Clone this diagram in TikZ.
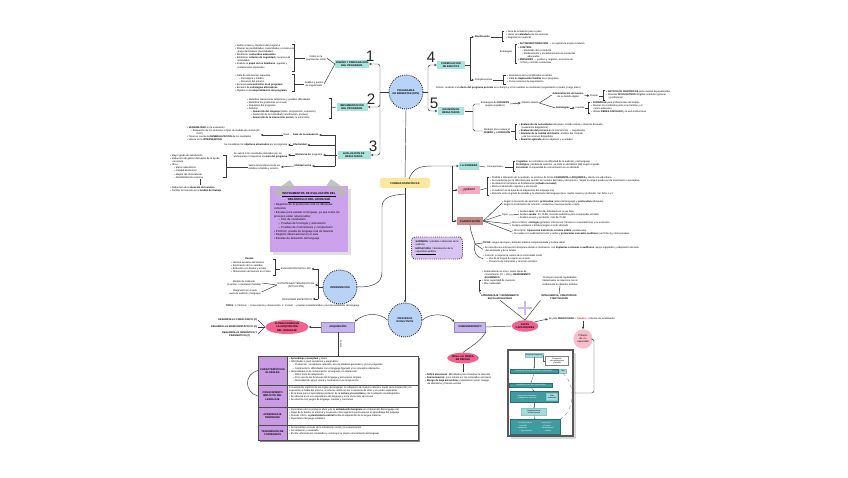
\documentclass[tikz,border=0pt]{standalone}
\usepackage{fontspec}
\setmainfont{Liberation Sans}
\usetikzlibrary{positioning,shapes.geometric,arrows.meta,shadows}

\definecolor{blubg}{HTML}{B9D3F6}
\definecolor{tealbg}{HTML}{A9E3DE}
\definecolor{lilabg}{HTML}{C7B6EC}
\definecolor{lilaline}{HTML}{9C8BC9}
\definecolor{pinkbg}{HTML}{F2628F}
\definecolor{pinkq}{HTML}{F7A9C2}
\definecolor{pinklight}{HTML}{F6BFCB}
\definecolor{brownbg}{HTML}{C98B87}
\definecolor{yellowbg}{HTML}{FBE8A0}
\definecolor{notebg}{HTML}{CDA2EC}
\definecolor{defbg}{HTML}{D8C3F2}
\definecolor{tablbg}{HTML}{C89BE2}
\definecolor{tealdk}{HTML}{3E9CA0}
\definecolor{teallt}{HTML}{A3DADF}
\definecolor{lineclr}{HTML}{3A3A3A}
\definecolor{plusclr}{HTML}{CBBBF2}

\newcommand{\ftext}{\fontsize{2.1}{2.7}\selectfont}
\newcommand{\ftitle}{\fontsize{2.2}{2.7}\selectfont\bfseries}
\newcommand{\fnote}{\fontsize{2.4}{3.2}\selectfont}
\newcommand{\fdigit}{\fontsize{13}{13}\selectfont}
\newcommand{\fmini}{\fontsize{1.6}{2}\selectfont}

\begin{document}
\begin{tikzpicture}[x=0.03cm,y=-0.03cm,
  conn/.style={draw=lineclr,line width=0.4pt},
  arr/.style={conn,-{Stealth[length=2.2pt,width=2pt]}},
  bubble/.style={circle,draw=black!80,densely dotted,line width=0.8pt,fill=blubg,
    minimum size=1.02cm,inner sep=0pt,align=center,font=\ftitle},
  tealbox/.style={fill=tealbg,inner sep=0.8pt,align=center,font=\ftitle,minimum height=0.24cm},
  lilabox/.style={fill=lilabg,draw=lilaline,line width=0.3pt,align=center,font=\ftitle,minimum height=0.3cm},
  blob/.style={ellipse,fill=pinkbg,inner sep=0pt,align=center,font=\ftitle},
  notes/.style={font=\ftext,align=left,inner sep=0pt,anchor=north west},
  lbl/.style={font=\ftext,align=center,inner sep=0.5pt},
  digit/.style={font=\fdigit,inner sep=0pt,text=black!85},
  tape/.style={fill=gray!55,opacity=0.85,minimum width=0.6cm,minimum height=0.17cm},
  cellL/.style={draw=black!70,fill=tablbg,minimum width=0.87cm,font=\ftitle,align=center,inner sep=0.5pt},
  cellR/.style={draw=black!70,minimum width=3.93cm,inner sep=0pt},
  fdark/.style={fill=tealdk,draw=tealdk!70!black,text=white,font=\fmini,align=center,inner sep=0.3pt},
  flight/.style={fill=teallt,draw=tealdk!60,font=\fmini,align=center,inner sep=0.3pt},
  farr/.style={draw=black!60,line width=0.25pt,-{Stealth[length=1.2pt,width=1.1pt]}}]

\fill[white] (0,0) rectangle (848,477);
\useasboundingbox (0,0) rectangle (848,477);

% programas
\node[bubble] (prog) at (406,92) {PROGRAMAS\\DE BIENESTAR (EPS)};
\node[tealbox,minimum width=0.93cm] (fase1) at (352,64) {DISEÑO Y PREPARACIÓN\\DEL PROGRAMA};
\node[tealbox,minimum width=0.93cm] (fase2) at (352,107) {IMPLEMENTACIÓN\\DEL PROGRAMA};
\node[tealbox,minimum width=0.99cm] (fase3) at (354,155) {EVALUACIÓN DE\\RESULTADOS};
\node[tealbox,minimum width=0.84cm] (fase4) at (451,65) {FORMULACIÓN\\DE EFECTOS};
\node[tealbox,minimum width=0.8cm] (fase5) at (451,111) {DIFUSIÓN DE\\RESULTADOS};

\node[digit] (n1) at (370,56) {1};
\node[digit] (n2) at (371,99) {2};
\node[digit] (n3) at (373,146) {3};
\node[digit] (n4) at (431,57) {4};
\node[digit] (n5) at (434,103) {5};

\coordinate (lj) at (380,92);
\coordinate (rj) at (428,92);
\draw[conn] (prog.west) -- (lj);
\draw[arr,rounded corners=2pt] (lj) |- (fase1.east);
\draw[arr,rounded corners=2pt] (lj) |- (fase2.east);
\draw[arr,rounded corners=2pt] (lj) |- (fase3.east);
\draw[conn] (prog.east) -- (rj);
\draw[arr,rounded corners=2pt] (rj) |- (fase4.west);
\draw[arr,rounded corners=2pt] (rj) |- (fase5.west);

% fase 1
\node[notes] (prepA) at (235,44) {• Definir el tema y objetivos del programa\\
• Revisar las posibilidades, capacidades y recursos del\\
\hspace*{2pt}grupo destinatario (necesidades)\\
• Establecer \textbf{contenidos adecuados}\\
• Establecer \textbf{criterios de seguridad} y recursos de\\
\hspace*{2pt}actividades\\
• Analizar el \textbf{papel de los familiares}, agentes y\\
\hspace*{2pt}profesionales implicados};
\node[lbl] (fallos) at (316,58) {Fallos en la\\preparación inicial};
\node[notes] (prepB) at (235,74) {• Falta de información requerida\\
\hspace*{3pt}– Psicológica y médica\\
\hspace*{3pt}– Recursos del entorno\\
• Excesiva \textbf{concentración en el programa}\\
• Escasez de \textbf{estrategias alternativas}\\
• Rigidez en la \textbf{temporalización del programa}};
\node[lbl] (analisis) at (314,84) {Análisis y puntos\\de seguimiento};
\draw[conn] (292,44) -- (294,44) -- (294,71) -- (292,71);
\draw[conn] (294,58) -- (fallos.west);
\draw[conn] (292,74) -- (294,74) -- (294,91) -- (292,91);
\draw[conn] (294,84) -- (analisis.west);
\draw[conn] (fallos.east) -- (fase1.west);
\draw[conn] (analisis.east) -- (fase1.west);

% fase 2
\node[notes] (impC) at (247,98) {• Identificar alteraciones tempranas y posibles dificultades\\
• Identificar los problemas en el aula\\
• Requisitos del programa\\
• Ámbitos:\\
\hspace*{3pt}– \textbf{Desarrollo del lenguaje} (habla, comprensión, expresión)\\
\hspace*{3pt}– Desarrollo de la motricidad (coordinación, postura)\\
\hspace*{3pt}– \textbf{Desarrollo de la interacción social} y la autonomía};
\draw[conn] (329,98) -- (331,98) -- (331,118) -- (329,118);
\draw[conn] (331,108) -- (fase2.west);

% fase 3
\draw[conn] (fase3.west) -- (335,155);
\draw[conn] (335,135) -- (335,166);
\node[notes] (evalE1) at (187,126) {• \textbf{VARIABILIDAD} en la evaluación\\
\hspace*{3pt}– Evaluación de los síntomas, 3 tipos de medida de control (EC,\\
\hspace*{8pt}OCC)\\
• Tener en cuenta la \textbf{GENERALIZACIÓN} de los resultados\\
• Valorar en la \textbf{INTERVENCIÓN}};
\node[lbl] (efase) at (301,135) {Nivel → \textbf{Fase de la evaluación}};
\draw[arr] (335,135) -- (efase.east);
\draw[arr] (efase.west) -- (evalE1.east |- efase.west);
\node[lbl] (efect) at (300,145) {\textbf{Efectividad}};
\node[lbl,anchor=east] (txefect) at (288,145) {Se consideran los \textbf{objetivos alcanzados} por el programa};
\draw[arr] (335,145) -- (efect.east);
\draw[arr] (efect.west) -- (txefect.east);
\node[lbl] (efic) at (309,155) {\textbf{Eficiencia} del programa};
\node[lbl,anchor=east,align=left] (txefic) at (288,155) {Se valora si los resultados obtenidos por los\\participantes compensan el \textbf{coste del programa}};
\draw[arr] (335,155) -- (efic.east);
\draw[arr] (efic.west) -- (txefic.east);
\node[lbl] (util) at (303,166) {\textbf{Utilidad social}};
\node[lbl,anchor=east,align=left] (txutil) at (281,167) {Valora la transferencia de los\\cambios a familia y entorno};
\draw[arr] (335,166) -- (util.east);
\draw[arr] (util.west) -- (txutil.east);
\node[notes] (benef) at (170,154) {• Mayor grado de satisfacción\\
• Reducción de gastos derivados de la ayuda\\
\hspace*{2pt}necesaria\\
• Otros:\\
\hspace*{3pt}– Menor absentismo\\
\hspace*{3pt}– Calidad asistencial\\
\hspace*{3pt}– Mejora del clima laboral\\
\hspace*{3pt}– Rentabilidad de recursos};
\draw[conn] (223,155) -- (226,155) -- (226,177) -- (223,177);
\draw[conn] (226,167) -- (txutil.west);
\draw[conn] (200,179) -- (200,185);
\node[notes] (reduc) at (170,186) {• Reducción de la \textbf{duración del servicio}\\
• Facilitar la inserción en el \textbf{ámbito del trabajo}};

% fase 4
\draw[conn] (fase4.east) -- (470,65);
\draw[conn] (470,37) -- (470,80);
\node[lbl,anchor=west] (plan) at (474,37) {\textbf{Planificación}};
\draw[arr] (470,37) -- (plan.west);
\draw[conn] (plan.east) -- (502,37);
\draw[conn] (504,31.5) -- (502,31.5) -- (502,41) -- (504,41);
\node[notes] (planlist) at (506,30.5) {• Guía de actuación paso a paso\\
• Hacer un \textbf{calendario} de las sesiones\\
• Registrar los avances};
\node[lbl,anchor=east] (estrat) at (513,52) {Estrategias};
\draw[conn] (517,44) -- (515,44) -- (515,63) -- (517,63);
\node[notes] (estlist) at (518,42.5) {• \textbf{AUTOMONITORIZACIÓN} → se registra la propia conducta\\
• \textbf{CONTROL}\\
\hspace*{3pt}– Modelado de la conducta\\
\hspace*{3pt}– Moldeamiento y encadenamiento de conductas\\
\hspace*{8pt}adecuadas\\
• \textbf{REFUERZO} → positivo y negativo, economía de\\
\hspace*{2pt}fichas y contrato conductual};
\node[lbl,anchor=west] (compl) at (474,80) {Complicaciones};
\draw[arr] (470,80) -- (compl.west);
\draw[conn] (compl.east) -- (503,80);
\draw[conn] (506,75.5) -- (503,75.5) -- (503,84) -- (506,84);
\node[notes] (compllist) at (507,74.5) {• Resistencia de los implicados al cambio\\
• Falta de \textbf{implicación familiar} en el programa\\
• Pocas sesiones de seguimiento};
\node[lbl,anchor=west] (crit) at (435,88) {Criterio: analizar si el \textbf{efecto del programa persiste} en el tiempo y si los cambios se mantienen (seguimiento a medio y largo plazo)};

% fase 5
\draw[conn] (fase5.east) -- (473,111);
\node[lbl] (difA) at (495,104) {Estrategias de \textbf{DIFUSIÓN}\\(según el público)};
\node[lbl] (difB) at (497,131) {Modelos para evaluar el\\\textbf{DISEÑO} y la \textbf{DIFUSIÓN}};
\draw[conn,rounded corners=1.5pt] (difA.west) -| (473,131) -- (difB.west);
\node[lbl] (dtipo) at (530,103) {Difusión directa};
\draw[arr] (difA.east) -- (dtipo.west);
\node[lbl] (admin) at (568,95) {\textbf{Administración de fuentes}\\de su ámbito digital};
\node[lbl] (estr) at (563,108) {\textbf{Estrategias}};
\draw[conn] (dtipo.east) -- (admin.west);
\draw[conn] (dtipo.east) -- (estr.west);
\node[lbl] (fuente1) at (594,96) {Fuente};
\draw[arr] (admin.east) -- (fuente1.west);
\draw[conn] (fuente1.east) -- (603,96);
\draw[conn] (605,90.5) -- (603,90.5) -- (603,100) -- (605,100);
\node[notes] (fuenlist) at (606,90) {• \textbf{ARTÍCULOS CIENTÍFICOS} para revistas especializadas\\
• Revistas \textbf{DIVULGATIVAS} dirigidas al público general\\
\hspace*{2pt}y profesional};
\node[lbl] (fuente2) at (580,108) {Fuentes};
\draw[arr] (estr.east) -- (fuente2.west);
\draw[conn] (fuente2.east) -- (588,108);
\draw[conn] (590,102) -- (588,102) -- (588,113.5) -- (590,113.5);
\node[notes] (fuen2list) at (591,101) {• \textbf{JORNADAS} para profesionales del ámbito\\
• Revisar los resultados junto a las familias y el\\
\hspace*{2pt}centro educativo\\
• Utilizar \textbf{REDES SOCIALES} y la web institucional};
\draw[conn] (difB.east) -- (515,131);
\draw[conn] (517,124) -- (515,124) -- (515,139) -- (517,139);
\node[notes] (modlist) at (519,123) {• \textbf{Evaluación de necesidades} del grupo: estado actual y situación deseada\\
\hspace*{2pt}(evaluación diagnóstica)\\
• \textbf{Evaluación del proceso} de la intervención → seguimiento\\
• \textbf{Revisión de la calidad del diseño}: análisis del contexto\\
\hspace*{2pt}y de los recursos disponibles\\
• \textbf{Revisión aplicada} de los objetivos y su validez};

% formas especificas
\node[fill=yellowbg,rounded corners=2pt,font=\ftitle,minimum width=1.5cm,minimum height=0.25cm] (formas) at (405,183) {FORMAS ESPECÍFICAS};
\draw[conn] (prog.south) -- (formas.north);
\node[bubble] (proc) at (405,320) {PROCESOS\\EVOLUTIVOS};
\node[bubble] (inter) at (340,287) {INTERVENCIÓN};
\draw[arr] (formas.south) -- (proc.north);
\draw[conn] (405,194) .. controls (392,195) and (382,197) .. (382,207) -- (382,272) .. controls (382,284) and (372,287) .. (inter.east);

% la sordera
\node[tealbox,minimum width=0.6cm] (sord) at (469,166) {LA SORDERA};
\node[fill=pinkq,font=\ftitle,minimum width=0.66cm,minimum height=0.22cm,inner sep=0.5pt] (que) at (469,190) {¿QUÉ ES?};
\node[fill=brownbg,font=\ftitle,minimum width=0.78cm,minimum height=0.22cm,inner sep=0.5pt] (clas) at (470,221) {CLASIFICACIÓN};
\draw[arr] (409,179) .. controls (413,168) and (420,166) .. (432,166) -- (sord.west);
\draw[conn] (452,166) -- (452,221);
\draw[arr] (452,190) -- (que.west);
\draw[arr] (452,221) -- (clas.west);
\node[lbl] (conc) at (495,167) {· Concepciones ·};
\draw[conn] (sord.east) -- (conc.west);
\draw[conn] (conc.east) -- (513,167);
\draw[conn] (515,161.5) -- (513,161.5) -- (513,171.5) -- (515,171.5);
\node[notes] (conclist) at (516,160.5) {\textbf{Cognitiva}: se considera una dificultad de la audición y del lenguaje\\
\textbf{Fisiológica}: pérdida de audición, se mide en decibelios (dB) según el grado\\
\textbf{Funcional}: la capacidad de comunicación se ve afectada};
\draw[conn] (que.east) -- (487,188);
\draw[conn] (489,177) -- (487,177) -- (487,195) -- (489,195);
\node[notes] (quelist) at (490,176) {• Pérdida o alteración de la audición, se produce de forma \textbf{CONGÉNITA o ADQUIRIDA} y afecta a la vida diaria\\
• Se caracteriza por la dificultad para percibir los sonidos del habla y del entorno. Según su origen puede ser de transmisión o perceptiva\\
• Su detección temprana es fundamental (\textbf{cribado neonatal})\\
• Afecta al desarrollo cognitivo y emocional\\
• La audición es la base de la adquisición del lenguaje oral\\
• Relación entre el grado de pérdida y la afectación del lenguaje (leve, media, severa y profunda). Ver ficha 1 y 2};
\node[notes] (clas1) at (502,200) {• Según el momento de aparición: \textbf{prelocutiva} (antes del lenguaje) y \textbf{poslocutiva} (después)\\
• Según la localización de la lesión: conductiva, neurosensorial o mixta};
\node[lbl] (tipo) at (505,215) {Tipos};
\node[notes] (clas2) at (518,210) {• Sordera \textbf{leve}: 20-40 dB, dificultad con la voz baja\\
• Sordera \textbf{media}: 40-70 dB, necesita audífonos para comprender el habla\\
• Sordera severa y profunda: más de 70 dB};
\node[notes] (clas3) at (510,221) {• Otros criterios: \textbf{etiología} (genética, infecciones, fármacos o traumatismos) y su evolución\\
• Sordera unilateral o bilateral según el oído afectado};
\node[notes] (clas4) at (512,229) {• Otros tipos: \textbf{hipoacusia transitoria, sordera súbita}, presbiacusia\\
• Se evalúa con audiometría tonal y verbal y \textbf{potenciales evocados auditivos} (ver ficha 3) y otras pruebas};
\draw[conn] (clas.east) -- (clas1.west);
\draw[conn] (clas.east) -- (tipo.west);
\draw[conn] (tipo.east) -- (clas2.west);
\draw[conn] (clas.east) -- (clas3.west);
\draw[conn] (clas.east) -- (clas4.west);
\node[notes] (sist) at (483,241.5) {\textbf{TIPOS}: lengua de signos, bimodal, palabra complementada y lectura labial};
\node[notes] (interv) at (483,246.5) {• Se necesita una intervención temprana desde el nacimiento, con \textbf{implantes cocleares o audífonos}, apoyo logopédico y adaptación del aula\\
\hspace*{2pt}del alumnado y de la familia};
\node[notes] (cultura) at (483,254) {• Conocer y respetar la cultura de la comunidad sorda\\
\hspace*{3pt}– Uso de la lengua de signos en el aula\\
\hspace*{3pt}– Presencia de intérpretes y recursos visuales};
\coordinate (cj) at (475,244);
\draw[conn] (clas.south) .. controls (470,232) and (474,238) .. (cj);
\draw[conn] (cj) -- (sist.west);
\draw[conn] (cj) -- (interv.west);
\draw[conn] (cj) .. controls (473,252) and (476,257) .. (cultura.west);

\node[draw=black!75,densely dotted,line width=0.8pt,fill=defbg,rounded corners=3pt,
  minimum width=1.53cm,minimum height=0.66cm,font=\ftext,align=left,inner sep=1pt] (defs) at (437,248)
  {\textbf{SORDERA} = pérdida o alteración de la\\audición\\\textbf{HIPOACUSIA} = disminución de la\\\underline{capacidad auditiva}};

% nota
\node[fill=notebg,minimum width=2.34cm,minimum height=2.0cm,drop shadow={opacity=0.25}] (nota) at (309,219) {};
\node[tape,rotate=35] (tapeL) at (284,189) {};
\node[tape,rotate=-35] (tapeR) at (337,188) {};
\node[notes,font=\fnote,text width=2.1cm,anchor=north] (notatxt) at (309,192) {\centering\underline{\textbf{INSTRUMENTOS DE EVALUACIÓN DEL}}\\\underline{\textbf{DESARROLLO DEL LENGUAJE}}\par
\raggedright
• Registros de la producción oral en diferentes contextos\\
• Escalas para evaluar el lenguaje, ya que todos los procesos están relacionados:\\
\hspace*{4pt}– Test de vocabulario\\
\hspace*{4pt}– Pruebas de fonología y articulación\\
\hspace*{4pt}– Pruebas de morfosintaxis y comprensión\\
• PLON-R: prueba de lenguaje oral de Navarra\\
• Registro observacional en el aula\\
• Escalas de desarrollo del lenguaje};

% intervencion
\draw[conn] (inter.west) -- (318,287);
\draw[conn] (318,269) -- (318,299);
\node[lbl] (evini) at (296,269) {EVALUACIÓN INICIAL (EI)};
\draw[arr] (318,269) -- (evini.east);
\node[notes] (pautas) at (231,258) {\hspace*{12pt}\textbf{Pautas:}\\
• Historia evolutiva del alumno\\
• Exploración de los sentidos\\
• Entrevista a la familia y el tutor\\
• Observación del alumno en el aula};
\draw[conn] (273,259) -- (275,259) -- (275,275) -- (273,275);
\draw[conn] (275,269) -- (evini.west);
\node[lbl] (estter) at (296,285) {ESTRATEGIAS TERAPÉUTICAS\\(ACTUACIÓN)};
\draw[arr] (318,285) -- (estter.east);
\node[lbl] (gabin) at (244,283) {Modelo de Gabinete\\(1 sesión + orientación familiar)};
\node[lbl] (aula) at (245,292) {Integración en el aula\\(aula de audición y lenguaje)};
\draw[conn] (estter.west) -- (gabin.east);
\draw[conn] (estter.west) -- (aula.east);
\node[lbl] (progesp) at (297,299) {PROGRAMA ESPECÍFICO};
\draw[arr] (318,299) -- (progesp.east);
\node[lbl,anchor=west] (tipos) at (225,306) {\textbf{TIPOS}: 1. Informal → conversación y observación. 2. Formal → pruebas estandarizadas y test de evaluación del lenguaje};

% procesos evolutivos
\node[lilabox,minimum width=1cm] (adq) at (338,327) {ADQUISICIÓN};
\node[lilabox,minimum width=0.9cm] (subr) at (470,327) {SUBRENDIMIENTO};
\draw[arr] (proc.west) .. controls (380,313) and (366,312) .. (adq.north east);
\draw[arr] (proc.east) .. controls (430,313) and (446,313) .. (subr.north west);
\node[blob,minimum width=1.3cm,minimum height=0.42cm] (altl) at (287,327) {ALTERACIONES EN\\LA ADQUISICIÓN\\DEL LENGUAJE};
\draw[arr] (adq.west) -- (altl.east);
\node[lbl,anchor=east] (fono) at (258,320) {\textbf{DESARROLLO FONOLÓGICO (C)}};
\node[lbl,anchor=east] (morfo) at (258,327) {\textbf{DESARROLLO MORFOSINTÁCTICO (C)}};
\node[lbl,anchor=east] (sema) at (258,334) {\textbf{DESARROLLO SEMÁNTICO Y}\\\textbf{PRAGMÁTICO (C)}};
\draw[conn] (altl.west) -- (fono.east);
\draw[conn] (altl.west) -- (morfo.east);
\draw[conn] (altl.west) -- (sema.east);

% tabla
\draw[conn] (adq.south) -- (338,356);
\node[font=\fmini,rotate=90,inner sep=0pt] (etapas) at (341,344) {ETAPAS};
\fill[black!45] (260,358) rectangle (420,442);
\fill[white] (258,356) rectangle (418,440);
\node[cellL,minimum height=0.87cm] (rw1) at (272.5,370.5) {CARACTERÍSTICAS\\GLOBALES};
\node[cellL,minimum height=0.66cm] (rw2) at (272.5,396) {CONOCIMIENTO\\IMPLÍCITO DEL\\LENGUAJE};
\node[cellL,minimum height=0.54cm] (rw3) at (272.5,416) {APRENDIZAJE\\TEMPRANO};
\node[cellL,minimum height=0.45cm] (rw4) at (272.5,432.5) {TRANSMISIÓN DE\\CONTENIDOS};
\node[cellR,minimum height=0.87cm] (cl1) at (352.5,370.5) {};
\node[cellR,minimum height=0.66cm] (cl2) at (352.5,396) {};
\node[cellR,minimum height=0.54cm] (cl3) at (352.5,416) {};
\node[cellR,minimum height=0.45cm] (cl4) at (352.5,432.5) {};
\node[notes] (tx1) at (289,357.5) {• \textbf{Aprendizaje conceptual} y léxico\\
• Dificultades a nivel semántico y pragmático:\\
\hspace*{3pt}– Producción: vocabulario reducido, uso de palabras generales y pocas preguntas\\
\hspace*{3pt}– Comprensión: dificultades con el lenguaje figurado y los conceptos abstractos\\
• Necesidades en la comunicación, el lenguaje y la interacción:\\
\hspace*{3pt}– Ritmo lento de adquisición\\
\hspace*{3pt}– Poco uso de las funciones del lenguaje y estructuras simples\\
\hspace*{3pt}– Necesidad de apoyo visual y contextual en la comprensión};
\node[notes] (tx2) at (289,386) {Conocimiento implícito de las reglas del lenguaje: se adquieren de manera natural a través de la interacción y la\\
exposición al habla del entorno; el niño las utiliza sin ser consciente de ellas y sin poder explicarlas.\\
• Es la base para el aprendizaje posterior de la \textbf{lectura y la escritura} y de la reflexión metalingüística\\
• Se observa en el uso espontáneo del lenguaje y en la corrección de errores\\
• Se refuerza con juegos de lenguaje, cuentos y canciones};
\node[notes] (tx3) at (289,408) {• Importancia de los primeros años y de la \textbf{estimulación temprana} en el desarrollo del lenguaje oral\\
• Papel de la familia, el entorno y la escuela como agentes que favorecen el aprendizaje del lenguaje\\
• Periodo crítico: la \textbf{plasticidad cerebral} facilita la adquisición de la lengua materna\\
• Importancia del juego simbólico};
\node[notes] (tx4) at (289,426.5) {• Se transmiten a través de la interacción social y la comunicación\\
• Por imitación y modelado\\
• El niño reformula los contenidos y construye su propio conocimiento del lenguaje};
\draw[conn] (rw1.west) .. controls (244,374) and (244,392) .. (rw2.west);

% subrendimiento
\node[blob,minimum width=0.9cm,minimum height=0.32cm] (perfil) at (463,358) {Niños con PERFIL\\DE RIESGO};
\draw[conn] (subr.south east) .. controls (480,342) and (470,347) .. (perfil.north);
\draw[conn] (perfil.south) -- (463,372);
\node[notes] (riesgo) at (425,373) {• \textbf{Déficit atencional}: dificultades para mantener la atención\\
• \textbf{Desmotivación}: poco interés por los contenidos escolares\\
• \textbf{Riesgo de baja autoestima} y aislamiento social. Riesgo\\
\hspace*{2pt}de abandono y fracaso escolar};

% altas capacidades
\node[blob,minimum width=0.8cm,minimum height=0.34cm] (altas) at (525,326) {ALTAS\\CAPACIDADES};
\draw[conn] (subr.east) -- (altas.west);
\node[notes] (rasgos) at (482,270) {• Sobresaliente en una o varias áreas de\\
\hspace*{2pt}conocimiento (CI > 130) y \textbf{RENDIMIENTO}\\
\hspace*{2pt}\textbf{ACADÉMICO}\\
• Gran capacidad de memoria\\
• Alta creatividad};
\node[lbl] (aprend) at (500,297) {\textbf{APRENDIZAJE Y RENDIMIENTO}\\\textbf{ESCOLAR ELEVADO}};
\draw[conn] (481,280) -- (479,280) -- (479,290) -- (481,290);
\draw[conn] (479,290) -- (aprend.north west);
\node[lbl] (nivel) at (560,281) {El mayor nivel de capacidades\\intelectuales se relaciona con el\\rendimiento en distintos ámbitos};
\node[lbl] (intel) at (559,297) {\textbf{INTELIGENCIA, CREATIVIDAD}\\\textbf{Y MOTIVACIÓN}};
\draw[conn] (nivel.south) -- (intel.north);
\draw[conn] (aprend.south) -- (altas.north);
\draw[conn] (intel.south west) -- (altas.north);
\draw[plusclr,line width=1pt] (518,308) -- (532,308);
\draw[plusclr,line width=1pt] (525,301) -- (525,315);
\node[lbl,anchor=west] (pide) at (548,319) {Se pide \textbf{PRECOCIDAD} + \textcolor{red}{\textbf{Talento}} + Criterios de rendimiento};
\draw[arr] (altas.north east) -- (pide.west);
\node[circle,fill=pinklight,minimum size=0.58cm,inner sep=0pt,font=\ftext,align=center] (critc) at (583,339) {Criterios\\de \textcolor{red}{alta}\\capacidad};
\draw[arr] (pide.south -| critc.north) -- (critc.north);

% diagrama de flujo
\node[draw=black!65,line width=0.9pt,fill=white,minimum width=1.95cm,minimum height=2.58cm,inner sep=0pt,drop shadow={opacity=0.3}] (flow) at (540.5,393) {};
\draw[conn,rounded corners=2pt] (critc.east) -- (594,339) |- (flow.east);
\node[flight,minimum width=0.54cm,minimum height=0.12cm] (fl1) at (534,355) {Detección temprana};
\node[draw=black!50,fill=white,font=\fmini,align=center,inner sep=0.3pt,minimum width=0.69cm,minimum height=0.27cm] (flnote) at (557,361) {Evaluación\\psicopedagógica\\y familiar};
\node[fdark,minimum width=1.44cm,minimum height=0.12cm] (fl2) at (534,371) {Evaluación de las capacidades intelectuales};
\node[flight,minimum width=0.21cm,minimum height=0.12cm] (flsmall) at (563,371) {Test};
\node[fdark,minimum width=1.29cm,minimum height=0.12cm] (fl3) at (531,385) {Identificación de altas capacidades};
\node[fdark,minimum width=1.44cm,minimum height=0.33cm] (fl4) at (534,397) {Intervención educativa\hspace*{12pt}\\y adaptación curricular\hspace*{12pt}};
\node[flight,minimum width=0.33cm,minimum height=0.21cm] (flplan) at (552,397) {Plan\\individual};
\node[flight,minimum width=0.75cm,minimum height=0.21cm] (fl5) at (534,412) {Seguimiento de\\la intervención};
\node[fdark,minimum width=1.5cm,minimum height=0.45cm] (fl6) at (535,427) {Enriquecimiento\hspace*{8pt}Aceleración\\curricular\hspace*{14pt}de curso\\– ampliación\hspace*{12pt}– flexibilización\\– agrupamiento\hspace*{10pt}– tutoría};
\draw[farr] (fl1.south) -- (fl2.north);
\draw[farr] (flnote.west) -| (fl1.east);
\draw[farr] (fl2.south) -- (fl3.north);
\draw[farr] (fl3.south) -- (fl4.north);
\draw[farr] (fl4.south) -- (fl5.north);
\draw[farr] (fl5.south) -- (fl6.north);
\draw[draw=black!60,line width=0.25pt] (fl2.east) -- (flsmall.west);
\draw[draw=black!50,line width=0.3pt,dashed] (flsmall.south) .. controls (576,385) and (575,410) .. (fl6.north east);
\end{tikzpicture}
\end{document}
